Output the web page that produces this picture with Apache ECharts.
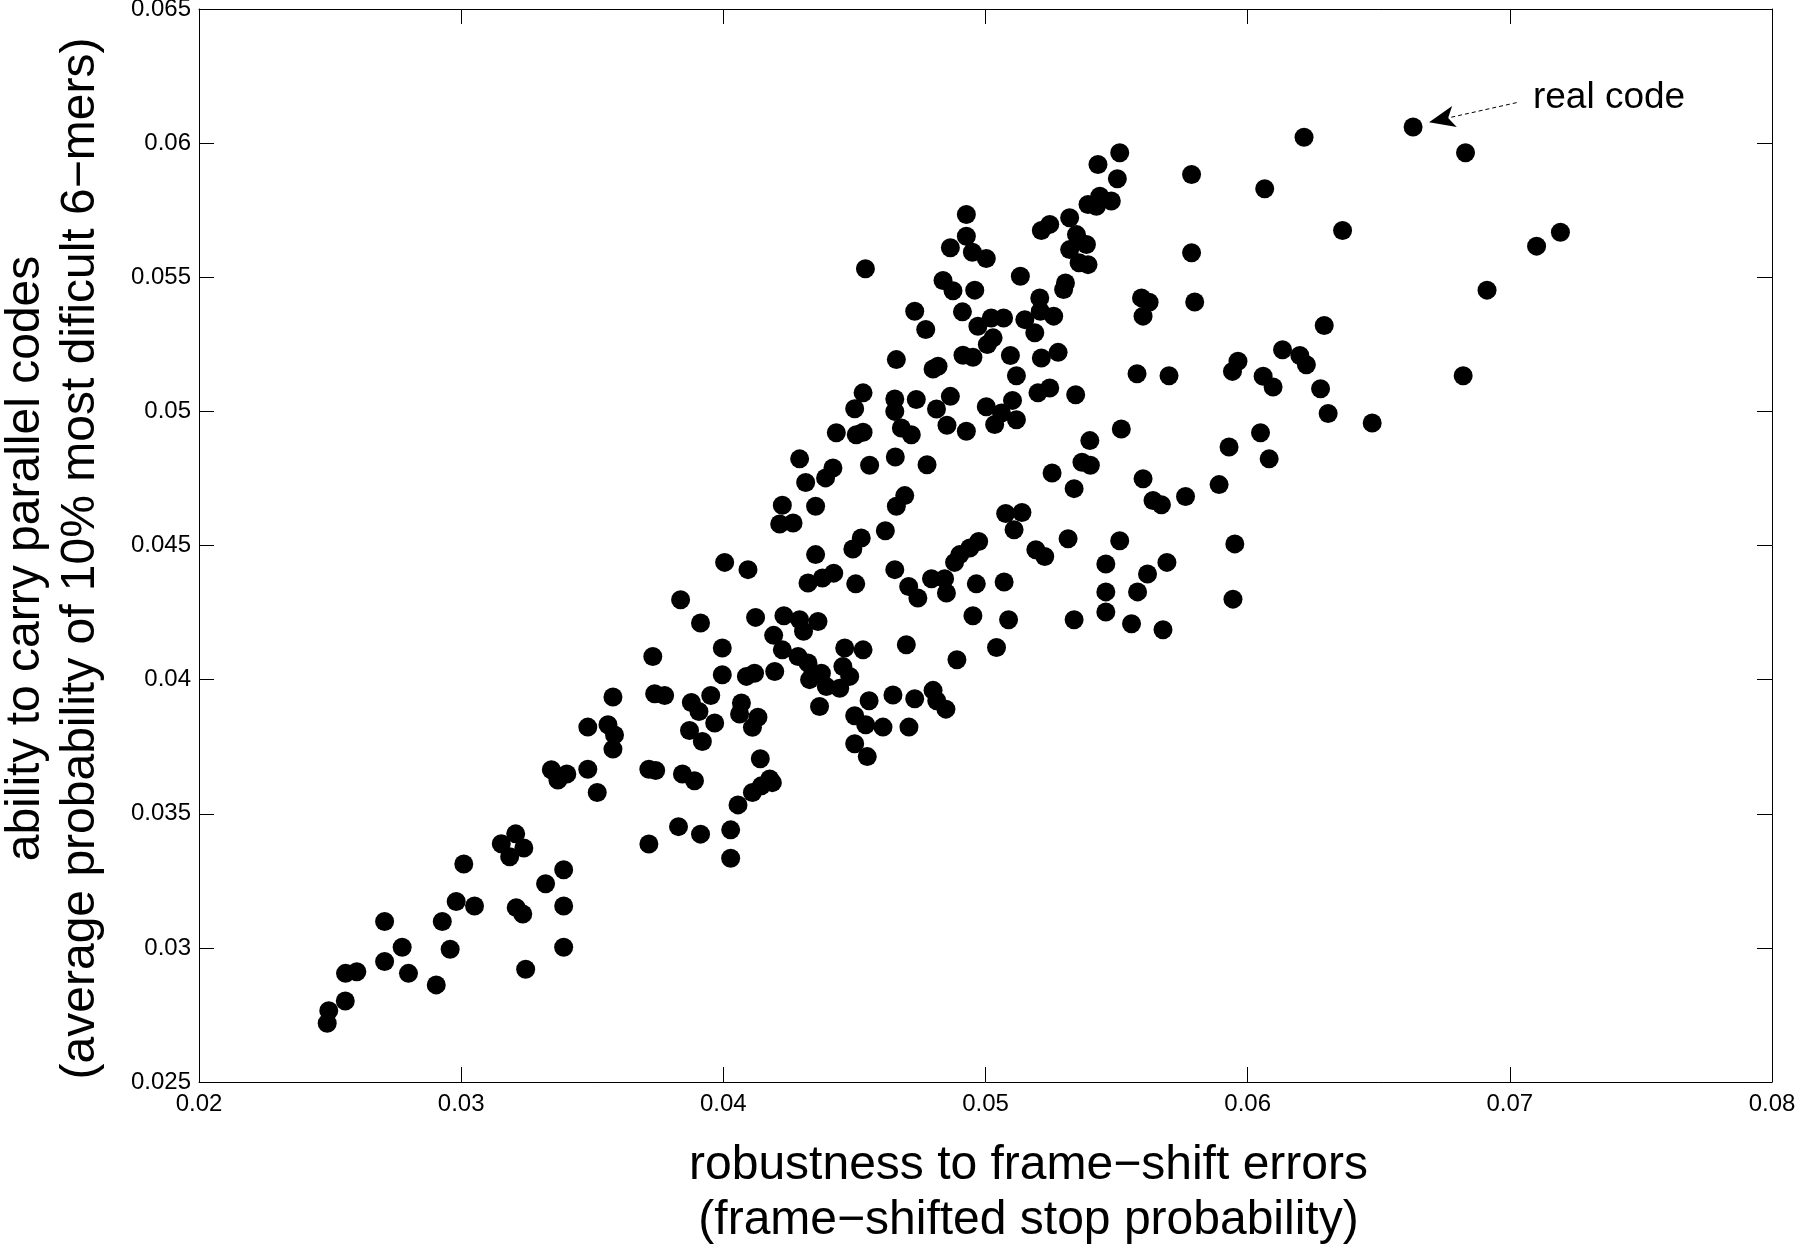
<!DOCTYPE html>
<html><head><meta charset="utf-8">
<script src="https://cdn.jsdelivr.net/npm/echarts@6/dist/echarts.min.js"></script>
<style>html,body{margin:0;padding:0;background:#fff}#chart{width:1800px;height:1248px}</style>
</head><body><div id="chart"></div>
<script>
const xTitle = 'robustness to frame\u2212shift errors\n(frame\u2212shifted stop probability)';
const yTitle = 'ability to carry parallel codes\n(average probability of 10% most dificult 6\u2212mers)';
const xScale = {min: 0.02, max: 0.08, interval: 0.01};
const yScale = {min: 0.025, max: 0.065, interval: 0.005};
const annotationText = 'real code';
const annotationTextAt = [0.07088, 0.06162];
const arrowFrom = [0.07026, 0.06151];
const arrowTo = [0.06692, 0.06078];

// [frame-shift robustness, parallel-code ability] per code
const codePoints = [
[0.03579,0.03935],[0.03483,0.03823],[0.03560,0.03832],[0.03585,0.03794],[0.03579,0.03741],[0.03483,0.03666],[0.03344,0.03664],[0.03369,0.03626],[0.03403,0.03648],[0.03519,0.03579],
[0.03208,0.03425],[0.03153,0.03388],[0.03239,0.03372],[0.03185,0.03340],[0.03010,0.03313],[0.03391,0.03291],[0.03322,0.03239],[0.02981,0.03173],[0.03051,0.03156],[0.03210,0.03150],
[0.03235,0.03126],[0.03391,0.03156],[0.02928,0.03098],[0.02708,0.03098],[0.02958,0.02995],[0.03391,0.03002],[0.02775,0.03002],[0.02708,0.02949],[0.02799,0.02905],[0.03246,0.02920],
[0.02905,0.02862],[0.02559,0.02905],[0.02602,0.02911],[0.02558,0.02802],[0.02495,0.02766],[0.02489,0.02719],
[0.03738,0.03947],[0.03776,0.03941],[0.03878,0.03915],[0.03907,0.03881],[0.03952,0.03941],[0.03967,0.03838],[0.03871,0.03810],[0.03920,0.03769],[0.04069,0.03913],[0.04062,0.03872],[0.04132,0.03860],[0.04111,0.03822],
[0.03716,0.03666],[0.03742,0.03661],[0.03844,0.03648],[0.03890,0.03623],[0.04141,0.03705],[0.04177,0.03630],[0.04145,0.03604],[0.04111,0.03579],[0.04187,0.03616],[0.04056,0.03533],[0.03829,0.03452],[0.03913,0.03424],[0.03716,0.03387],[0.04028,0.03440],[0.04028,0.03334],
[0.04367,0.03900],[0.04556,0.03921],[0.04647,0.03943],[0.04730,0.03929],[0.04501,0.03865],[0.04543,0.03832],[0.04609,0.03823],[0.04708,0.03823],[0.04501,0.03761],[0.04549,0.03713],
[0.04542,0.05532],[0.04730,0.05373],[0.04660,0.05193],[0.04533,0.05069],[0.04501,0.05010],[0.04654,0.05046],[0.04736,0.05044],[0.04654,0.05000],[0.04679,0.04938],[0.04717,0.04913],
[0.04431,0.04920],[0.04507,0.04913],[0.04533,0.04922],[0.04291,0.04823],[0.04418,0.04789],[0.04390,0.04752],[0.04314,0.04735],[0.04558,0.04799],[0.04656,0.04830],
[0.04225,0.04650],[0.04352,0.04646],[0.04215,0.04580],[0.04266,0.04584],[0.04692,0.04686],[0.04660,0.04646],[0.04618,0.04555],[0.04526,0.04528],[0.04494,0.04487],[0.04352,0.04466],[0.04421,0.04397],[0.04378,0.04379],[0.04323,0.04360],[0.04505,0.04357],[0.04654,0.04410],[0.04707,0.04347],[0.04742,0.04304],
[0.04005,0.04437],[0.04094,0.04410],[0.03837,0.04298],[0.03913,0.04211],[0.04123,0.04232],[0.04231,0.04238],[0.04291,0.04223],[0.04361,0.04217],[0.04306,0.04180],[0.04192,0.04165],[0.04698,0.04130],[0.03731,0.04086],[0.03996,0.04118],[0.03996,0.04018],[0.04088,0.04012],[0.04119,0.04024],[0.04225,0.04111],[0.04196,0.04030],[0.04285,0.04086],[0.04323,0.04062],[0.04342,0.04024],[0.04374,0.04024],[0.04329,0.04000],[0.04393,0.03974],[0.04463,0.04118],[0.04533,0.04111],[0.04456,0.04049],[0.04482,0.04012],[0.04444,0.03968],
[0.05512,0.05964],[0.05429,0.05920],[0.05503,0.05867],[0.05786,0.05883],
[0.05391,0.05771],[0.05436,0.05802],[0.05480,0.05784],[0.05423,0.05765],[0.04927,0.05734],[0.05321,0.05722],[0.05245,0.05697],[0.05213,0.05674],[0.05347,0.05659],[0.05385,0.05622],[0.05321,0.05603],
[0.05357,0.05554],[0.05391,0.05547],
[0.04927,0.05653],[0.04866,0.05610],[0.04950,0.05593],[0.05003,0.05570],[0.05133,0.05504],[0.05305,0.05479],[0.05298,0.05454],[0.04838,0.05488],[0.04876,0.05450],[0.04959,0.05452],[0.05786,0.05591],[0.05595,0.05423],[0.05624,0.05407],[0.05601,0.05355],[0.05798,0.05408],[0.05207,0.05423],[0.04772,0.05305],[0.04912,0.05371],[0.04971,0.05317],[0.05022,0.05348],[0.05069,0.05348],
[0.05007,0.05249],[0.05029,0.05274],
[0.05150,0.05342],[0.05188,0.05293],[0.05209,0.05373],[0.05260,0.05355],
[0.04914,0.05209],[0.04952,0.05202],[0.05095,0.05208],[0.05118,0.05133],[0.05213,0.05199],[0.05277,0.05220],[0.04800,0.05158],[0.04819,0.05168],[0.05578,0.05140],[0.05700,0.05133],[0.05963,0.05187],[0.05942,0.05149],
[0.04866,0.05056],[0.04813,0.05009],[0.04853,0.04948],[0.04927,0.04926],[0.05003,0.05017],[0.05035,0.04951],[0.05103,0.05041],[0.05118,0.04969],[0.05061,0.04994],[0.05200,0.05069],[0.05245,0.05087],[0.05344,0.05062],
[0.04777,0.04801],[0.05518,0.04934],[0.05398,0.04891],[0.05368,0.04810],[0.05400,0.04799],[0.05254,0.04770],[0.05338,0.04712],[0.05929,0.04867],
[0.05601,0.04749],[0.05639,0.04668],[0.05671,0.04652],[0.05763,0.04683],[0.05891,0.04727],[0.05077,0.04619],[0.05139,0.04623],[0.05109,0.04559],[0.04974,0.04515],[0.04940,0.04491],[0.04902,0.04466],[0.04882,0.04437],
[0.05192,0.04484],[0.05226,0.04459],[0.05315,0.04525],[0.05512,0.04518],[0.05459,0.04431],[0.05692,0.04437],[0.05618,0.04394],[0.05580,0.04327],[0.05459,0.04327],[0.05459,0.04252],[0.05557,0.04208],[0.05677,0.04186],[0.05338,0.04223],[0.05951,0.04506],[0.05944,0.04300],
[0.04794,0.04376],[0.04844,0.04376],[0.04851,0.04323],
[0.04965,0.04357],[0.05071,0.04364],[0.04952,0.04238],[0.05088,0.04223],[0.05042,0.04120],[0.04891,0.04074],[0.04800,0.03960],
[0.04814,0.03921],[0.04849,0.03890],
[0.06631,0.06060],[0.06215,0.06022],[0.06831,0.05964],[0.06065,0.05830],[0.06362,0.05674],[0.07102,0.05616],[0.07193,0.05668],[0.06913,0.05452],[0.06292,0.05320],[0.06133,0.05230],[0.06199,0.05208],[0.06224,0.05174],[0.06059,0.05131],[0.06097,0.05091],[0.06278,0.05084],[0.06822,0.05133],
[0.06307,0.04992],[0.06475,0.04957],[0.06049,0.04920],[0.06082,0.04823]
];

const FONT = '"Liberation Sans", Arial, Helvetica, sans-serif';
const fmt = v => String(parseFloat(v.toFixed(4)));
const frameAxis = (pos) => ({
  type: 'value', position: pos,
  axisLine: {show: true, onZero: false, lineStyle: {color: '#000', width: 1}},
  axisTick: {show: true, inside: true, length: 15, lineStyle: {color: '#000', width: 1}},
  splitLine: {show: false}
});

const chart = echarts.init(document.getElementById('chart'), null, {renderer: 'canvas'});
const xMain = Object.assign(frameAxis('bottom'), xScale, {
  axisLabel: {show: true, fontSize: 24, color: '#000', fontFamily: FONT, margin: 10, formatter: fmt},
  name: xTitle, nameLocation: 'middle', nameGap: 56,
  nameTextStyle: {fontSize: 48, lineHeight: 55, color: '#000', fontFamily: FONT, padding: [0, 0, 0, 86]}
});
const xTop = Object.assign(frameAxis('top'), xScale, {axisLabel: {show: false}});
const yMain = Object.assign(frameAxis('left'), yScale, {
  axisLabel: {show: true, fontSize: 24, color: '#000', fontFamily: FONT, margin: 8, formatter: fmt},
  name: yTitle, nameLocation: 'middle', nameGap: 91, nameRotate: 90,
  nameTextStyle: {fontSize: 48, lineHeight: 55, color: '#000', fontFamily: FONT, padding: [0, 26, 0, 0]}
});
const yRight = Object.assign(frameAxis('right'), yScale, {axisLabel: {show: false}});

chart.setOption({
  animation: false,
  backgroundColor: '#fff',
  grid: {left: 199, right: 28, top: 9, bottom: 166, containLabel: false, outerBoundsMode: 'none'},
  xAxis: [xMain, xTop],
  yAxis: [yMain, yRight],
  series: [{
    type: 'scatter',
    data: codePoints,
    symbol: 'circle',
    symbolSize: 19,
    itemStyle: {color: '#000', opacity: 1},
    silent: true,
    markLine: {
      silent: true,
      symbol: ['none', 'arrow'],
      symbolSize: [16, 26],
      label: {show: false},
      lineStyle: {color: '#000', width: 1, type: [4, 3]},
      data: [[{coord: arrowFrom}, {coord: arrowTo}]]
    }
  }]
});

const p = chart.convertToPixel({gridIndex: 0}, annotationTextAt);
chart.setOption({
  graphic: [{
    type: 'text', left: p[0], top: p[1] - 20, silent: true,
    style: {text: annotationText, fontSize: 37, fontFamily: FONT, fill: '#000'}
  }]
});
</script></body></html>
